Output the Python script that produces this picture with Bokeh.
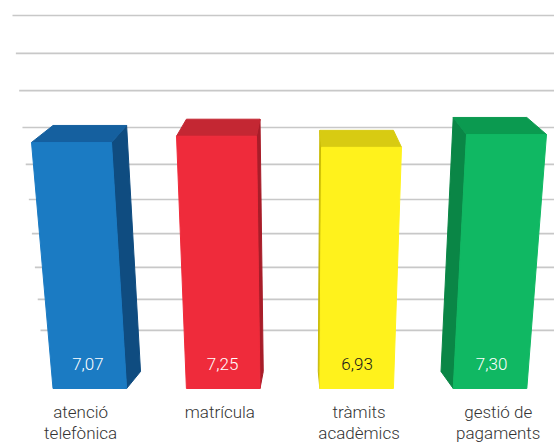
from bokeh.plotting import figure
from bokeh.models import Range1d
from bokeh.core.properties import value
from bokeh.embed import file_html
from bokeh.resources import INLINE

# ---- data ----
cat_line1 = ["atenció", "matrícula", "tràmits", "gestió de"]
cat_line2 = ["telefònica", "", "acadèmics", "pagaments"]
values = [7.07, 7.25, 6.93, 7.30]
value_labels = ["7,07", "7,25", "6,93", "7,30"]
front_colors = ["#1b7bc3", "#ef2b3b", "#fff21c", "#10b863"]
top_colors = ["#15609f", "#c42733", "#d8cb12", "#0b9a50"]
side_colors = ["#0f4c80", "#a81d29", "#c9bb08", "#0a8646"]
label_colors = ["white", "white", "#1a1a1a", "white"]
# back-wall gridline levels (value units)
wall_levels = [1.67, 2.56, 3.48, 4.45, 5.43, 6.44, 7.50, 8.56, 9.63, 10.72]

FONT = value("'Roboto Light', 'Liberation Sans', sans-serif")

# ---- layout constants (pixels -> data units) ----
W, H = 554, 445
PX_X = 145.0           # px per category step
X0 = 71.0              # px of category 0
PX_Y = 34.8            # px per value unit
BASE = 388.0           # px of value 0

x_start = (0 - X0) / PX_X
x_end = (W - X0) / PX_X
y_start = (BASE - H) / PX_Y
y_end = (BASE - 0) / PX_Y

c = (300 - X0) / PX_X        # vanishing centre (x, data units)
hw = 40.0 / PX_X             # half width of front face
f = 0.92                     # bottom pulled toward centre
s = 0.08                     # depth shift toward centre
dh = 17.0 / PX_Y             # depth rise

p = figure(width=W, height=H, output_backend="svg", toolbar_location=None,
           x_range=Range1d(x_start, x_end), y_range=Range1d(y_start, y_end),
           x_axis_location=None, y_axis_location=None, min_border=0,
           background_fill_color="white", border_fill_color="white")
p.outline_line_color = None
p.xgrid.visible = False
p.ygrid.visible = False

# gridlines on the back wall; left edge of wall in perspective
gx0 = []
for lv in wall_levels:
    ypx = BASE - lv * PX_Y
    xpx = 12 + (ypx - 15) / (330 - 15) * (40 - 12)
    gx0.append((xpx - X0) / PX_X)
p.segment(x0=gx0, y0=wall_levels, x1=[x_end] * len(wall_levels), y1=wall_levels,
          line_color="#c8c8c8", line_width=1.6)

def persp_bottom(x):
    return c + (x - c) * f

def back(x):
    return x + (c - x) * s

for i, v in enumerate(values):
    xl, xr = i - hw, i + hw
    xlb, xrb = persp_bottom(xl), persp_bottom(xr)
    # side face
    if i < c:
        sx = [xr, back(xr), back(xrb), xrb]
    else:
        sx = [xl, back(xl), back(xlb), xlb]
    sy = [v, v + dh, dh, 0]
    p.patch(sx, sy, fill_color=side_colors[i], line_color=side_colors[i], line_width=1)
    # top face
    p.patch([xl, xr, back(xr), back(xl)], [v, v, v + dh, v + dh],
            fill_color=top_colors[i], line_color=top_colors[i], line_width=1)
    # front face
    p.patch([xl, xr, xrb, xlb], [v, v, 0, 0],
            fill_color=front_colors[i], line_color=front_colors[i], line_width=1)

# value labels inside bars
lab_y = (BASE - 363) / PX_Y
lx = []
for i, v in enumerate(values):
    top_c = i
    bot_c = persp_bottom(i)
    lx.append(bot_c + (top_c - bot_c) * (lab_y / v))
p.text(x=lx, y=[lab_y] * 4, text=value_labels, text_color=label_colors,
       text_font=FONT, text_font_size="17px",
       text_align="center", text_baseline="middle")

# category labels
cx = [c + (i - c) * 0.96 for i in range(len(values))]
y1 = (BASE - 411) / PX_Y
y2 = (BASE - 432) / PX_Y
p.text(x=cx, y=[y1] * 4, text=cat_line1, text_color="#333333",
       text_font=FONT, text_font_size="17px",
       text_align="center", text_baseline="middle")
p.text(x=cx, y=[y2] * 4, text=cat_line2, text_color="#333333",
       text_font=FONT, text_font_size="17px",
       text_align="center", text_baseline="middle")

open("out.html", "w").write(file_html(p, INLINE))
